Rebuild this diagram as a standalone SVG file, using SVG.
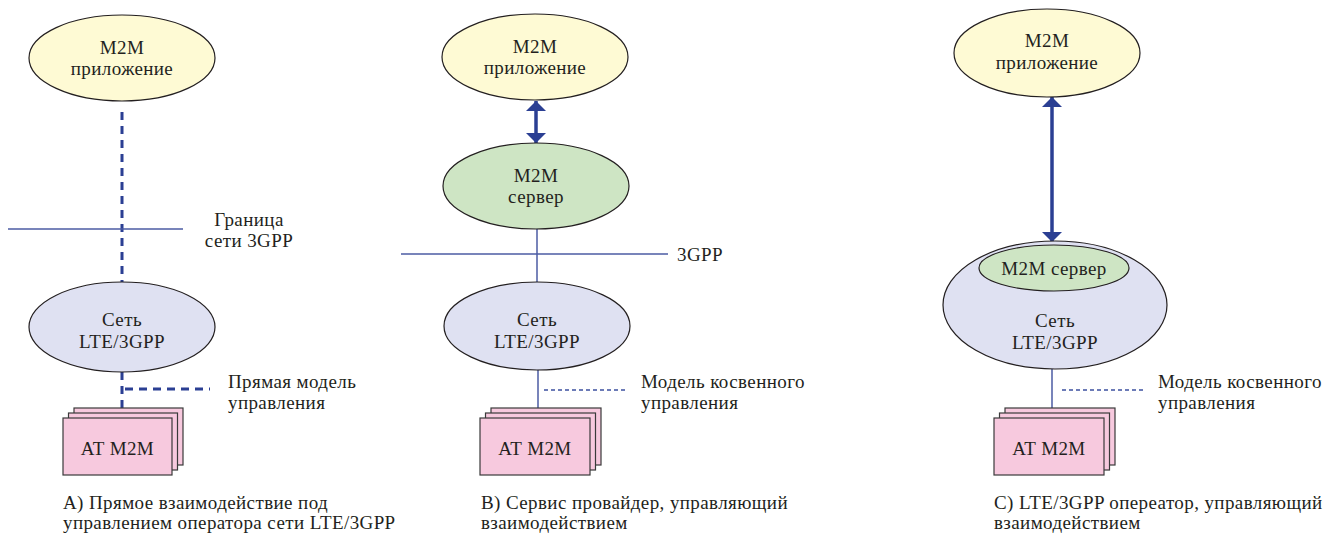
<svg xmlns="http://www.w3.org/2000/svg" width="1331" height="535" viewBox="0 0 1331 535" font-family="'Liberation Serif', 'DejaVu Serif', serif">
<style>
text{font-family:'Liberation Serif','DejaVu Serif',serif;fill:#231f20;font-size:19px;letter-spacing:0.4px}
.c{text-anchor:middle}
.yel{fill:#fefad4;stroke:#231f20;stroke-width:1.2}
.grn{fill:#cee5c4;stroke:#231f20;stroke-width:1.2}
.blu{fill:#dfe1f2;stroke:#231f20;stroke-width:1.2}
.pnk{fill:#f7c9de;stroke:#3a3a3a;stroke-width:1.2}
.thin{stroke:#4b5ba3;stroke-width:1.5;fill:none}
.thind{stroke:#3d50a0;stroke-width:1.3;stroke-dasharray:4 3;fill:none}
.thick{stroke:#2b3f93;stroke-width:3;stroke-dasharray:8 6;fill:none}
.arr{stroke:#2b3f93;stroke-width:3.5;fill:none;marker-start:url(#ah);marker-end:url(#ah)}
</style>
<defs>
<marker id="ah" viewBox="0 0 10 20" markerWidth="10" markerHeight="20" refX="10" refY="10" orient="auto-start-reverse" markerUnits="userSpaceOnUse">
<path d="M0,0 L10,10 L0,20 z" fill="#2b3f93"/>
</marker>
</defs>

<g id="connectors">
<line class="thick" x1="122" y1="112" x2="122" y2="283"/>
<line class="thick" x1="122" y1="372" x2="122" y2="418"/>
<line class="thick" x1="125" y1="389" x2="210" y2="389"/>
<line class="thin" x1="8" y1="229" x2="183" y2="229"/>
<line class="arr" x1="536" y1="101" x2="536" y2="143"/>
<line class="thin" x1="537" y1="229" x2="537" y2="283"/>
<line class="thin" x1="401" y1="254" x2="668" y2="254"/>
<line class="thin" x1="538" y1="370" x2="538" y2="418"/>
<line class="thind" x1="544" y1="390" x2="627" y2="390"/>
<line class="arr" x1="1052" y1="97" x2="1052" y2="242"/>
<line class="thin" x1="1052" y1="369" x2="1052" y2="418"/>
<line class="thind" x1="1062" y1="390" x2="1145" y2="390"/>
</g>

<g id="labels">
<text x="249" y="226" class="c">Граница</text>
<text x="249" y="247" class="c">сети 3GPP</text>
<text x="228" y="388">Прямая модель</text>
<text x="228" y="409">управления</text>
<text x="677" y="261">3GPP</text>
<text x="641" y="388">Модель косвенного</text>
<text x="641" y="409">управления</text>
<text x="1158" y="388">Модель косвенного</text>
<text x="1158" y="409">управления</text>
<text x="63" y="509">A) Прямое взаимодействие под</text>
<text x="63" y="529">управлением оператора сети LTE/3GPP</text>
<text x="481" y="509">B) Сервис провайдер, управляющий</text>
<text x="481" y="529">взаимодействием</text>
<text x="994" y="509">C) LTE/3GPP опереатор, управляющий</text>
<text x="994" y="529">взаимодействием</text>
</g>

<g id="appA">
<ellipse class="yel" cx="122" cy="58" rx="93" ry="43"/>
<text x="122" y="54" class="c">M2M</text>
<text x="122" y="75" class="c">приложение</text>
</g>
<g id="netA">
<ellipse class="blu" cx="122" cy="327" rx="93" ry="45"/>
<text x="122" y="326" class="c">Сеть</text>
<text x="122" y="348" class="c">LTE/3GPP</text>
</g>
<g id="atA">
<rect class="pnk" x="74" y="408" width="109" height="57"/>
<rect class="pnk" x="68.5" y="413" width="109" height="57"/>
<rect class="pnk" x="63" y="418" width="109" height="57"/>
<text x="117.5" y="455" class="c">AT M2M</text>
</g>

<g id="appB">
<ellipse class="yel" cx="535" cy="57" rx="93" ry="43"/>
<text x="535" y="53" class="c">M2M</text>
<text x="535" y="74" class="c">приложение</text>
</g>
<g id="srvB">
<ellipse class="grn" cx="536" cy="186" rx="93" ry="43"/>
<text x="536" y="182" class="c">M2M</text>
<text x="536" y="203" class="c">сервер</text>
</g>
<g id="netB">
<ellipse class="blu" cx="537" cy="326" rx="93" ry="44"/>
<text x="537" y="326" class="c">Сеть</text>
<text x="537" y="348" class="c">LTE/3GPP</text>
</g>
<g id="atB">
<rect class="pnk" x="491" y="408" width="110" height="57"/>
<rect class="pnk" x="485.5" y="413" width="110" height="57"/>
<rect class="pnk" x="480" y="418" width="110" height="57"/>
<text x="535" y="455" class="c">AT M2M</text>
</g>

<g id="appC">
<ellipse class="yel" cx="1047" cy="53" rx="93" ry="44"/>
<text x="1047" y="47" class="c">M2M</text>
<text x="1047" y="69" class="c">приложение</text>
</g>
<g id="netC">
<ellipse class="blu" cx="1055" cy="305" rx="112" ry="64"/>
<text x="1055" y="327" class="c">Сеть</text>
<text x="1055" y="349" class="c">LTE/3GPP</text>
</g>
<g id="srvC">
<ellipse class="grn" cx="1054" cy="268" rx="75" ry="23"/>
<text x="1054" y="275" class="c">M2M сервер</text>
</g>
<g id="atC">
<rect class="pnk" x="1005" y="408" width="110" height="57"/>
<rect class="pnk" x="999.5" y="413" width="110" height="57"/>
<rect class="pnk" x="994" y="418" width="110" height="57"/>
<text x="1049" y="455" class="c">AT M2M</text>
</g>
</svg>
